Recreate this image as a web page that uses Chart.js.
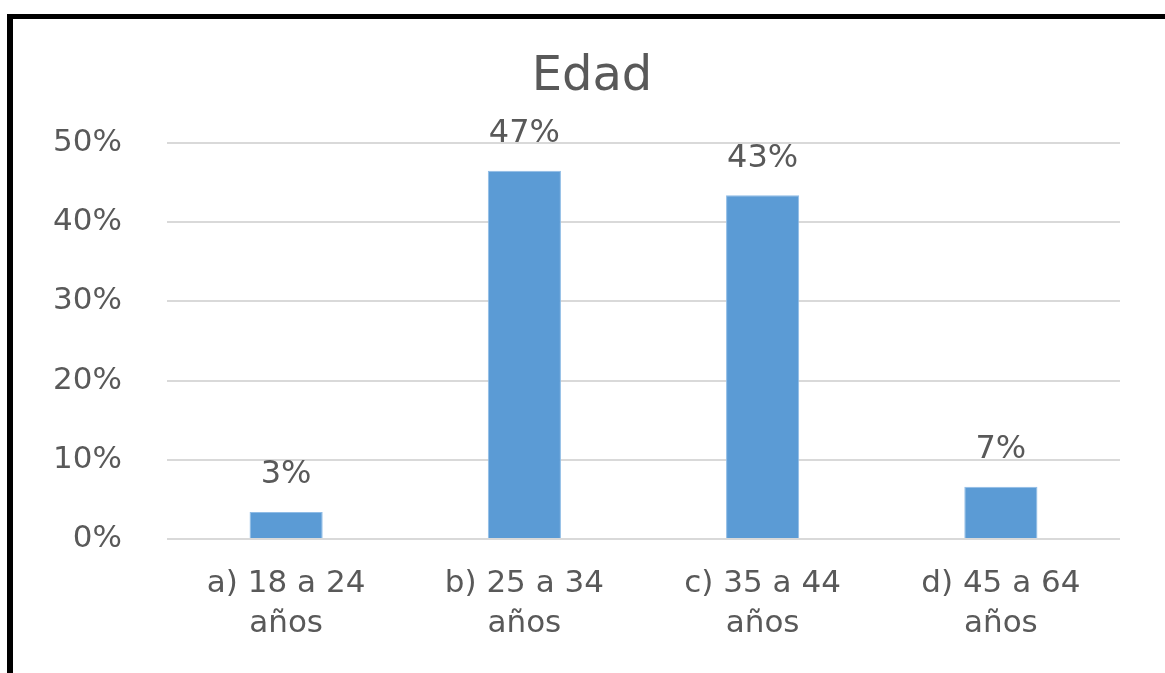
<!DOCTYPE html>
<html>
<head>
<meta charset="utf-8">
<script src="https://cdn.jsdelivr.net/npm/chart.js@4/dist/chart.umd.min.js"></script>
<style>
  html, body { margin: 0; padding: 0; background: #fff; }
  #wrap { position: relative; width: 1165px; height: 673px; overflow: hidden; }
  #frame {
    position: absolute; left: 7px; top: 14px; right: 0; bottom: 0;
    border-top: 5px solid #000; border-left: 6px solid #000;
  }
  #chart { position: absolute; left: 0; top: 0; }
</style>
</head>
<body>
<div id="wrap">
  <div id="frame"></div>
  <canvas id="chart" width="1165" height="673"></canvas>
</div>
<script>
const categories = [
  ["a) 18 a 24", "años"],
  ["b) 25 a 34", "años"],
  ["c) 35 a 44", "años"],
  ["d) 45 a 64", "años"],
];
const values = [0.034, 0.465, 0.434, 0.066];
const valueLabels = ["3%", "47%", "43%", "7%"];
const titleText = "Edad";

const textColor = "#595959";
const fontFamily = "'DejaVu Sans', sans-serif";

// title (centred on the whole frame, not the plot) and the value above each bar
const barLabels = {
  id: "barLabels",
  afterDatasetsDraw(chart) {
    const ctx = chart.ctx;
    const meta = chart.getDatasetMeta(0);
    ctx.save();
    ctx.fillStyle = textColor;
    ctx.textAlign = "center";
    ctx.textBaseline = "middle";
    ctx.font = "48px " + fontFamily;
    ctx.fillText(titleText, 592, 78);
    ctx.font = "32px " + fontFamily;
    meta.data.forEach((bar, i) => {
      ctx.fillText(valueLabels[i], bar.x, bar.y - 37);
    });
    ctx.restore();
  },
};

const ctx = document.getElementById("chart").getContext("2d");
new Chart(ctx, {
  type: "bar",
  data: {
    labels: categories,
    datasets: [
      {
        data: values,
        backgroundColor: "#5B9BD5",
        borderColor: "#8FBCE6",
        borderWidth: 1,
        categoryPercentage: 1,
        barPercentage: 0.307,
      },
    ],
  },
  options: {
    responsive: false,
    animation: false,
    layout: { padding: { top: 143, right: 45, left: 0, bottom: 0 } },
    scales: {
      x: {
        grid: { display: false },
        border: { display: false },
        ticks: {
          color: textColor,
          font: { family: fontFamily, size: 31, lineHeight: 1.3 },
          padding: 17,
          maxRotation: 0,
        },
        afterFit: (scale) => { scale.height = 134; },
      },
      y: {
        min: 0,
        max: 0.5,
        ticks: {
          stepSize: 0.1,
          color: textColor,
          font: { family: fontFamily, size: 31 },
          padding: 45,
          callback: (v) => Math.round(v * 100) + "%",
        },
        grid: { color: "#D9D9D9", lineWidth: 2, drawTicks: false },
        border: { display: false },
        afterFit: (scale) => { scale.width = 167; },
      },
    },
    plugins: {
      legend: { display: false },
      tooltip: { enabled: false },
      title: { display: false },
    },
  },
  plugins: [barLabels],
});
</script>
</body>
</html>
